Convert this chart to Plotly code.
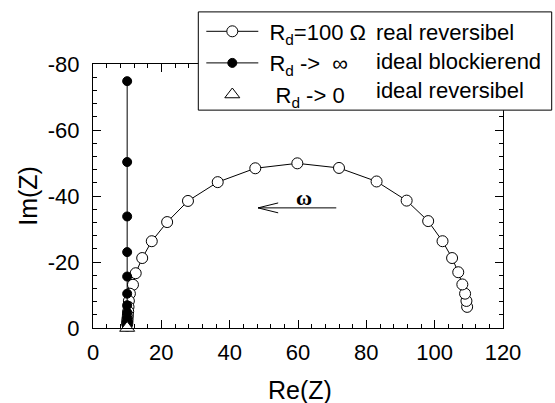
import plotly.graph_objects as go

# ---- data ----
# R_d = 100 Ohm (real reversibel): Re(Z), Im(Z)
re_real = [109.5, 109.3, 108.9, 108.1, 106.9, 105.1, 102.3, 98.1, 91.8, 83.0, 72.0, 59.8,
           47.5, 36.5, 27.8, 21.7, 17.2, 14.4, 12.5, 11.7, 10.8, 10.5, 10.4, 10.3, 10.2,
           10.12, 10.08, 10.05, 10.03, 10.02]
im_real = [-6.4, -8.2, -10.4, -13.2, -16.9, -21.2, -26.3, -32.4, -38.6, -44.4, -48.5, -49.9,
           -48.4, -44.2, -38.5, -32.1, -26.3, -21.2, -16.6, -13.1, -10.4, -8.2, -6.4, -5.0, -3.9,
           -3.1, -2.4, -1.9, -1.5, -1.2]

# R_d -> infinity (ideal blockierend)
re_block = [10, 10, 10, 10, 10, 10, 10, 10, 10, 10, 10, 10, 10, 10]
im_block = [-74.8, -50.3, -33.8, -23.0, -15.6, -10.4, -6.9, -4.7, -3.2, -2.1, -1.4, -0.95, -0.64, -0.43]

# R_d -> 0 (ideal reversibel)
re_rev = [10]
im_rev = [0]

x_ticks = [0, 20, 40, 60, 80, 100, 120]
y_ticks = [0, -20, -40, -60, -80]
y_ticktext = ["0", "-20", "-40", "-60", "-80"]

names = ["\u00a0R<sub>d</sub>=100 Ω", "\u00a0R<sub>d</sub> ->  ∞", "\u00a0\u00a0R<sub>d</sub> -> 0"]
descriptions = ["real reversibel", "ideal blockierend", "ideal reversibel"]

# ---- layout helpers (pixel -> paper) ----
W, H = 555, 403
ML, MR, MT, MB = 93, 52, 63, 75
PW, PH = W - ML - MR, H - MT - MB


def px(x):
    return (x - ML) / PW


def py(y):
    return (H - MB - y) / PH


FONT = "Liberation Sans, Arial, sans-serif"

fig = go.Figure()
fig.add_trace(go.Scatter(
    x=re_real, y=im_real, mode="lines+markers", name=names[0],
    line=dict(color="black", width=1),
    marker=dict(symbol="circle", size=11, color="white", line=dict(color="black", width=1)),
    cliponaxis=False))
fig.add_trace(go.Scatter(
    x=re_block, y=im_block, mode="lines+markers", name=names[1],
    line=dict(color="black", width=1),
    marker=dict(symbol="circle", size=9, color="black", line=dict(color="black", width=1)),
    cliponaxis=False))
fig.add_trace(go.Scatter(
    x=re_rev, y=im_rev, mode="markers", name=names[2],
    marker=dict(symbol="triangle-up", size=13, color="white", line=dict(color="black", width=1)),
    cliponaxis=False))

axis_common = dict(
    showline=True, linecolor="black", linewidth=1, mirror="ticks",
    ticks="inside", ticklen=8, tickwidth=1, tickcolor="black",
    showgrid=False, zeroline=False,
    tickfont=dict(family=FONT, size=22, color="black"),
)

fig.update_xaxes(range=[0, 120], tickmode="array", tickvals=x_ticks,
                 minor=dict(dtick=4, ticks="inside", ticklen=4, tickcolor="black", showgrid=False),
                 ticklabelstandoff=5, **axis_common)
fig.update_yaxes(range=[0, -80], tickmode="array", tickvals=y_ticks, ticktext=y_ticktext,
                 minor=dict(dtick=4, ticks="inside", ticklen=4, tickcolor="black", showgrid=False),
                 ticklabelstandoff=8, **axis_common)

shapes = [
    # legend frame
    dict(type="rect", xref="paper", yref="paper", x0=px(198.3), x1=px(551.7), y0=py(109.3), y1=py(10.7),
         fillcolor="white", line=dict(color="black", width=1), layer="above"),
    # omega arrow
    dict(type="line", xref="x", yref="y", x0=48.3, x1=71.2, y0=-36.4, y1=-36.4,
         line=dict(color="black", width=1)),
    dict(type="line", xref="x", yref="y", x0=48.3, x1=54.2, y0=-36.4, y1=-37.9,
         line=dict(color="black", width=1)),
    dict(type="line", xref="x", yref="y", x0=48.3, x1=54.2, y0=-36.4, y1=-34.9,
         line=dict(color="black", width=1)),
]

annotations = [
    dict(x=61.7, y=-39.4, xref="x", yref="y", text="<b>ω</b>", showarrow=False,
         font=dict(family="Liberation Serif, Times New Roman, serif", size=22, color="black")),
    dict(x=px(300), y=py(390), xref="paper", yref="paper", text="Re(Z)", showarrow=False,
         font=dict(family=FONT, size=25, color="black"), xanchor="center", yanchor="middle"),
    dict(x=px(27.3), y=py(195), xref="paper", yref="paper", text="Im(Z)", showarrow=False,
         textangle=-90, font=dict(family=FONT, size=25, color="black"), xanchor="center", yanchor="middle"),
]
for i, (d, yy) in enumerate(zip(descriptions, [31.0, 60.5, 89.5])):
    annotations.append(dict(x=px(373.7), y=py(yy), xref="paper", yref="paper", text=d, showarrow=False,
                            xanchor="left", yanchor="middle",
                            font=dict(family=FONT, size=22, color="black")))

fig.update_layout(
    width=W, height=H,
    margin=dict(l=ML, r=MR, t=MT, b=MB, pad=0),
    paper_bgcolor="white", plot_bgcolor="white",
    showlegend=True,
    legend=dict(x=px(201.3), y=py(10.5), xanchor="left", yanchor="top",
                bgcolor="rgba(0,0,0,0)", borderwidth=0, itemwidth=52,
                font=dict(family=FONT, size=22, color="black"), tracegroupgap=0),
    shapes=shapes, annotations=annotations,
)

fig.write_html("out.html", config={"displayModeBar": False},
               post_script="document.body.style.margin='0';")
